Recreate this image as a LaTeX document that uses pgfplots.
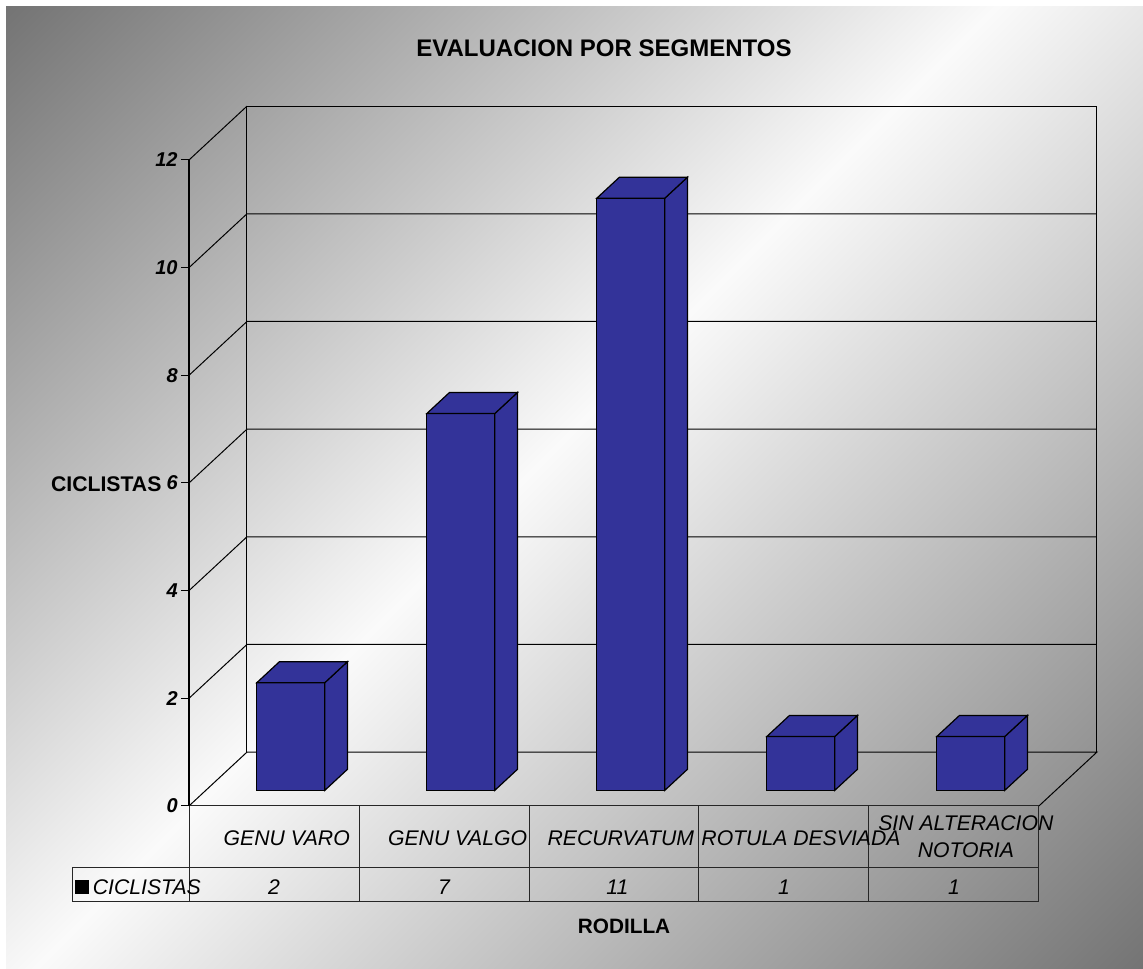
\documentclass[border=0pt]{standalone}
\usepackage{pgfplots}
\pgfplotsset{compat=1.18}
\usepackage{fontspec}
\setmainfont{Liberation Sans}
\definecolor{barblue}{RGB}{51,51,153}
\definecolor{bgdark}{RGB}{116,116,116}
\definecolor{bglight}{RGB}{250,250,250}
\pgfdeclareverticalshading{diagbg}{100bp}{color(0bp)=(bgdark); color(14.5bp)=(bgdark); color(52bp)=(bglight); color(85.5bp)=(bgdark); color(100bp)=(bgdark)}
\newcommand{\lbl}{\fontsize{10.6}{13.5}\selectfont}
\begin{document}
\begin{tikzpicture}
\begin{axis}[
  x=85pt, y=26.9167pt,
  xmin=-0.5, xmax=4.5, ymin=0, ymax=12,
  axis x line=none, axis y line*=left,
  clip=false, axis on top,
  ytick={0,2,...,12},
  tick align=outside, major tick length=4pt,
  every tick/.style={black, line width=0.5pt},
  axis line style={black, line width=0.6pt},
  yticklabel style={font=\fontsize{10}{12}\selectfont\bfseries\itshape, inner sep=1.5pt},
  /pgf/number format/assume math mode=true,
]
% background
\fill[white] (-1.612,-3.028) rectangle (5.112,14.972);
\shade[shading=diagbg, shading angle=45]
  (-1.576,-3.028) rectangle (5.112,14.842);
% walls and floor
\draw[black, line width=0.5pt] (-0.5,0) -- (-0.159,1) -- (4.841,1) -- (4.5,0);
\draw[black, line width=0.5pt] (-0.159,1) -- (-0.159,13) -- (4.841,13) -- (4.841,1);
\draw[black, line width=0.5pt] (-0.5,2) -- (-0.159,3) -- (4.841,3);
\draw[black, line width=0.5pt] (-0.5,4) -- (-0.159,5) -- (4.841,5);
\draw[black, line width=0.5pt] (-0.5,6) -- (-0.159,7) -- (4.841,7);
\draw[black, line width=0.5pt] (-0.5,8) -- (-0.159,9) -- (4.841,9);
\draw[black, line width=0.5pt] (-0.5,10) -- (-0.159,11) -- (4.841,11);
\draw[black, line width=0.5pt] (-0.5,12) -- (-0.159,13);
% data table
\draw[black!85, line width=0.5pt] (-0.5,0) -- (4.5,0);
\draw[black!85, line width=0.5pt] (-1.188,-1.152) -- (4.5,-1.152);
\draw[black!85, line width=0.5pt] (-1.188,-1.783) -- (4.5,-1.783);
\draw[black!85, line width=0.5pt] (-1.188,-1.152) -- (-1.188,-1.783);
\draw[black!85, line width=0.5pt] (-0.5,0) -- (-0.5,-1.783);
\draw[black!85, line width=0.5pt] (0.5,0) -- (0.5,-1.783);
\draw[black!85, line width=0.5pt] (1.5,0) -- (1.5,-1.783);
\draw[black!85, line width=0.5pt] (2.5,0) -- (2.5,-1.783);
\draw[black!85, line width=0.5pt] (3.5,0) -- (3.5,-1.783);
\draw[black!85, line width=0.5pt] (4.5,0) -- (4.5,-1.783);
% bars: values 2, 7, 11, 1, 1 (front face, side face, top face)
\addplot[fill=barblue, draw=black, line width=0.6pt] coordinates {(-0.101,0.29) (0.299,0.29) (0.299,2.29) (-0.101,2.29)} --cycle;
\addplot[fill=barblue, draw=black, line width=0.6pt] coordinates {(0.299,0.29) (0.432,0.68) (0.432,2.68) (0.299,2.29)} --cycle;
\addplot[fill=barblue, draw=black, line width=0.6pt] coordinates {(-0.101,2.29) (0.299,2.29) (0.432,2.68) (0.032,2.68)} --cycle;

\addplot[fill=barblue, draw=black, line width=0.6pt] coordinates {(0.899,0.29) (1.299,0.29) (1.299,7.29) (0.899,7.29)} --cycle;
\addplot[fill=barblue, draw=black, line width=0.6pt] coordinates {(1.299,0.29) (1.432,0.68) (1.432,7.68) (1.299,7.29)} --cycle;
\addplot[fill=barblue, draw=black, line width=0.6pt] coordinates {(0.899,7.29) (1.299,7.29) (1.432,7.68) (1.032,7.68)} --cycle;

\addplot[fill=barblue, draw=black, line width=0.6pt] coordinates {(1.899,0.29) (2.299,0.29) (2.299,11.29) (1.899,11.29)} --cycle;
\addplot[fill=barblue, draw=black, line width=0.6pt] coordinates {(2.299,0.29) (2.432,0.68) (2.432,11.68) (2.299,11.29)} --cycle;
\addplot[fill=barblue, draw=black, line width=0.6pt] coordinates {(1.899,11.29) (2.299,11.29) (2.432,11.68) (2.032,11.68)} --cycle;

\addplot[fill=barblue, draw=black, line width=0.6pt] coordinates {(2.899,0.29) (3.299,0.29) (3.299,1.29) (2.899,1.29)} --cycle;
\addplot[fill=barblue, draw=black, line width=0.6pt] coordinates {(3.299,0.29) (3.432,0.68) (3.432,1.68) (3.299,1.29)} --cycle;
\addplot[fill=barblue, draw=black, line width=0.6pt] coordinates {(2.899,1.29) (3.299,1.29) (3.432,1.68) (3.032,1.68)} --cycle;

\addplot[fill=barblue, draw=black, line width=0.6pt] coordinates {(3.899,0.29) (4.299,0.29) (4.299,1.29) (3.899,1.29)} --cycle;
\addplot[fill=barblue, draw=black, line width=0.6pt] coordinates {(4.299,0.29) (4.432,0.68) (4.432,1.68) (4.299,1.29)} --cycle;
\addplot[fill=barblue, draw=black, line width=0.6pt] coordinates {(3.899,1.29) (4.299,1.29) (4.432,1.68) (4.032,1.68)} --cycle;

% texts
\node[font=\fontsize{12}{14}\selectfont\bfseries, inner sep=0] at (1.941,14.08) {EVALUACION POR SEGMENTOS};
\node[font=\fontsize{10.6}{13}\selectfont\bfseries, inner sep=0, anchor=east] at (-0.66,5.98) {CICLISTAS};
\node[font=\fontsize{10.4}{13}\selectfont\bfseries, inner sep=0] at (2.059,-2.229) {RODILLA};
\node[font=\lbl\itshape, inner sep=0] at (0.075,-0.594) {GENU VARO};
\node[font=\lbl\itshape, inner sep=0] at (1.08,-0.594) {GENU VALGO};
\node[font=\lbl\itshape, inner sep=0] at (2.04,-0.594) {RECURVATUM};
\node[font=\lbl\itshape, inner sep=0] at (3.1,-0.594) {ROTULA DESVIADA};
\node[font=\lbl\itshape, inner sep=0, align=center] at (4.07,-0.58) {SIN ALTERACION\\NOTORIA};
\node[font=\lbl\itshape, inner sep=0] at (0,-1.505) {2};
\node[font=\lbl\itshape, inner sep=0] at (1,-1.505) {7};
\node[font=\lbl\itshape, inner sep=0] at (2.02,-1.505) {11};
\node[font=\lbl\itshape, inner sep=0] at (3,-1.505) {1};
\node[font=\lbl\itshape, inner sep=0] at (4,-1.505) {1};
\node[font=\lbl\itshape, inner sep=0, anchor=west] at (-1.171,-1.505) {\rule{7pt}{7pt}\,CICLISTAS};
\end{axis}
\end{tikzpicture}
\end{document}
